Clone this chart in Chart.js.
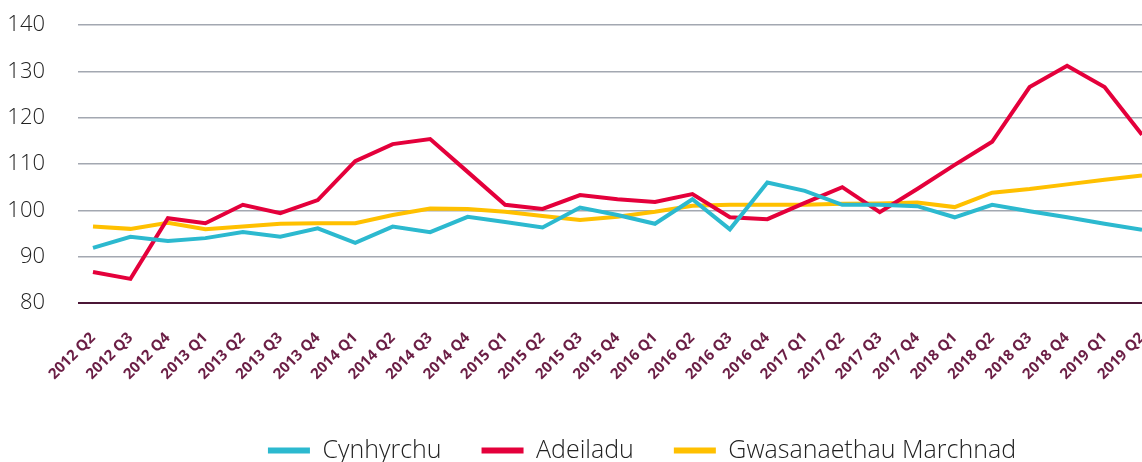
<!DOCTYPE html>
<html lang="cy">
<head>
  <meta charset="UTF-8">
  <title>Cynhyrchu, Adeiladu a Gwasanaethau Marchnad</title>
  <script src="https://cdn.jsdelivr.net/npm/chart.js"></script>
  <style>
    html, body { margin: 0; padding: 0; background: #fff; }
    #chart-container { position: relative; width: 1142px; height: 462px; }
  </style>
</head>
<body>
  <div id="chart-container">
    <canvas id="outputChart"></canvas>
  </div>

  <script>
    // Data
    const quarters = [
      '2012 Q2', '2012 Q3', '2012 Q4',
      '2013 Q1', '2013 Q2', '2013 Q3', '2013 Q4',
      '2014 Q1', '2014 Q2', '2014 Q3', '2014 Q4',
      '2015 Q1', '2015 Q2', '2015 Q3', '2015 Q4',
      '2016 Q1', '2016 Q2', '2016 Q3', '2016 Q4',
      '2017 Q1', '2017 Q2', '2017 Q3', '2017 Q4',
      '2018 Q1', '2018 Q2', '2018 Q3', '2018 Q4',
      '2019 Q1', '2019 Q2'
    ];
    const cynhyrchu = [
      91.9, 94.3, 93.4, 94.0, 95.3, 94.3, 96.1, 93.0, 96.5, 95.3,
      98.6, 97.5, 96.3, 100.6, 99.0, 97.1, 102.4, 95.9, 106.0, 104.2,
      101.2, 101.2, 100.9, 98.5, 101.2, 99.8, 98.5, 97.1, 95.8
    ];
    const adeiladu = [
      86.7, 85.2, 98.3, 97.2, 101.2, 99.4, 102.2, 110.6, 114.3, 115.4,
      108.3, 101.2, 100.3, 103.3, 102.4, 101.8, 103.5, 98.5, 98.1, 101.6,
      105.0, 99.6, 104.6, 109.8, 114.8, 126.6, 131.2, 126.6, 116.3
    ];
    const gwasanaethau = [
      96.5, 96.0, 97.3, 95.9, 96.5, 97.1, 97.2, 97.2, 99.0, 100.4,
      100.3, 99.7, 98.8, 97.9, 98.6, 99.7, 101.0, 101.2, 101.2, 101.2,
      101.4, 101.5, 101.7, 100.7, 103.8, 104.6, 105.6, 106.6, 107.5
    ];
    const seriesNames = ['Cynhyrchu', 'Adeiladu', 'Gwasanaethau Marchnad'];
    const seriesColors = ['#2cb9cf', '#e4003b', '#ffc000'];
    const yMin = 80, yMax = 140, yStep = 10;

    const toPoints = vals => vals.map((v, i) => ({ x: i, y: v }));

    Chart.defaults.font.family = "'Open Sans', 'Noto Sans', sans-serif";

    // the legend in the original sits right of centre and a bit lower
    const legendShift = {
      id: 'legendShift',
      afterLayout: (chart) => {
        const lg = chart.legend;
        lg.left += 71; lg.right += 71;
        lg.top += 11; lg.bottom += 11;
      }
    };

    const ctx = document.getElementById('outputChart').getContext('2d');
    const chart = new Chart(ctx, {
      type: 'line',
      data: {
        datasets: [cynhyrchu, adeiladu, gwasanaethau].map((vals, k) => ({
          label: seriesNames[k],
          data: toPoints(vals),
          borderColor: seriesColors[k],
          backgroundColor: seriesColors[k],
          borderWidth: 4,
          pointRadius: 0,
          tension: 0
        }))
      },
      options: {
        responsive: true,
        maintainAspectRatio: false,
        animation: false,
        layout: {
          padding: { top: 25, right: 0, bottom: 0, left: 0 }
        },
        plugins: {
          tooltip: { enabled: false },
          legend: {
            position: 'bottom',
            labels: {
              boxWidth: 42,
              boxHeight: 6,
              padding: 40,
              color: '#222',
              font: { size: 25, weight: '300' },
              generateLabels: c => Chart.defaults.plugins.legend.labels
                .generateLabels(c).map(l => ({ ...l, lineWidth: 0 }))
            }
          }
        },
        scales: {
          x: {
            type: 'linear',
            min: -0.4,
            max: 28,
            grid: { display: false },
            border: { display: false },
            afterBuildTicks: s => { s.ticks = quarters.map((q, i) => ({ value: i })); },
            afterFit: s => {
              s.height = 84;
              s.paddingLeft = 0;
              s.paddingRight = 0;
            },
            ticks: {
              autoSkip: false,
              minRotation: 45,
              maxRotation: 45,
              padding: 18,
              color: '#6b1e45',
              font: { size: 15, weight: 'bold' },
              callback: v => quarters[v]
            }
          },
          y: {
            min: yMin,
            max: yMax,
            border: { display: false },
            afterFit: s => {
              s.width = 78;
              s.paddingTop = 0;
              s.paddingBottom = 0;
            },
            grid: {
              drawTicks: false,
              color: c => c.tick.value === yMin ? '#4b1636' : '#a3a8b1',
              lineWidth: c => c.tick.value === yMin ? 2 : 1.5
            },
            ticks: {
              stepSize: yStep,
              padding: 33,
              color: '#222',
              font: { size: 22, weight: '300' }
            }
          }
        }
      },
      plugins: [legendShift]
    });
  </script>
</body>
</html>
